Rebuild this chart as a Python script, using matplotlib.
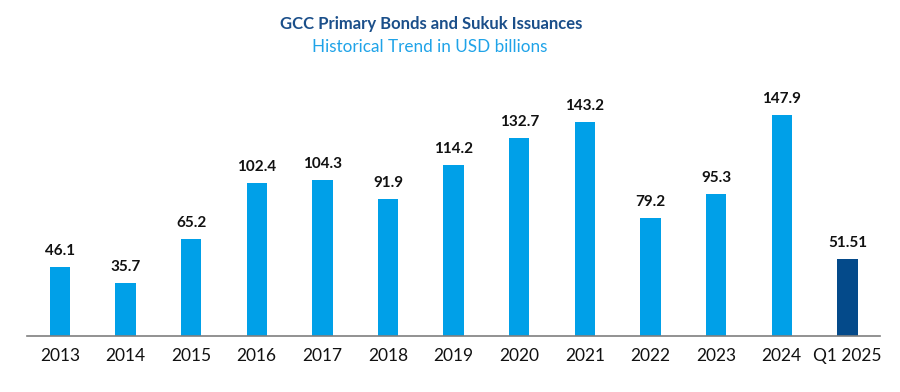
import matplotlib.pyplot as plt

# datos
years = ['2013', '2014', '2015', '2016', '2017', '2018', '2019',
         '2020', '2021', '2022', '2023', '2024', 'Q1 2025']
issuances = [46.1, 35.7, 65.2, 102.4, 104.3, 91.9, 114.2,
             132.7, 143.2, 79.2, 95.3, 147.9, 51.51]
value_labels = ['46.1', '35.7', '65.2', '102.4', '104.3', '91.9', '114.2',
                '132.7', '143.2', '79.2', '95.3', '147.9', '51.51']

plt.rcParams['font.family'] = ['Lato', 'DejaVu Sans']

fig = plt.figure(figsize=(9, 3.92), dpi=100)
ax = fig.add_axes([0.03, 0.143, 0.948, 0.61])

colors = ['#00A0E8'] * (len(years) - 1) + ['#044A8A']
x = range(len(years))
ax.bar(x, issuances, width=0.31, color=colors)

for i, v in enumerate(issuances):
    ax.text(i, v + 6, value_labels[i], ha='center', va='bottom',
            fontsize=11, fontweight='bold', color='#111111')

ax.set_xlim(-0.5, len(years) - 0.5)
ax.set_ylim(0, 160)
ax.set_yticks([])
ax.set_xticks(list(x))
ax.set_xticklabels(years, fontsize=12.5, color='#111111')
ax.tick_params(axis='x', length=0, pad=9)
for s in ['top', 'right', 'left']:
    ax.spines[s].set_visible(False)
ax.spines['bottom'].set_color('#7F7F7F')
ax.spines['bottom'].set_linewidth(1.2)

fig.text(0.479, 0.94, 'GCC Primary Bonds and Sukuk Issuances', ha='center',
         va='center', fontsize=12, fontweight='bold', color='#1B4F8A')
fig.text(0.477, 0.88, 'Historical Trend in USD billions', ha='center',
         va='center', fontsize=12.3, color='#1FA3E8')

fig.savefig('out.png', dpi=100)
